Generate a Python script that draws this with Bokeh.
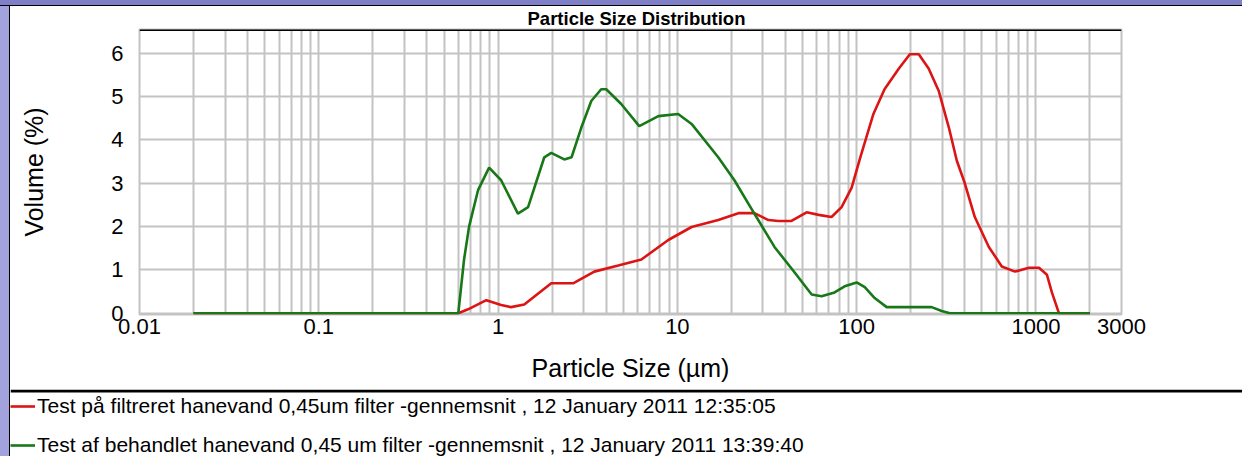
from bokeh.plotting import figure
from bokeh.models import FixedTicker, Span, Legend, LegendItem, Range1d
from bokeh.layouts import column
from bokeh.embed import file_html
from bokeh.resources import INLINE

# ---- data ----
x_ticks = [0.01, 0.1, 1, 10, 100, 1000, 3000]
x_tick_labels = ["0.01", "0.1", "1", "10", "100", "1000", "3000"]
y_ticks = [0, 1, 2, 3, 4, 5, 6]

red_label = "Test på filtreret hanevand 0,45um filter -gennemsnit , 12 January 2011 12:35:05"
green_label = "Test af behandlet hanevand 0,45 um filter -gennemsnit , 12 January 2011 13:39:40"

red_x = [0.02, 0.6, 0.68, 0.86, 1.04, 1.18, 1.4, 1.98, 2.62, 3.44, 4.68, 6.3, 8.9, 12.0,
         16.9, 21.9, 26.9, 32.2, 36.6, 43.3, 52.6, 61.4, 72.4, 82.4, 93.8, 104, 124, 143,
         172, 198, 222, 252, 287, 327, 362, 401, 456, 546, 645, 764, 914, 1040, 1151,
         1227, 1343, 2000]
red_y = [0, 0, 0.09, 0.30, 0.19, 0.14, 0.2, 0.69, 0.69, 0.96, 1.1, 1.24, 1.69, 1.99,
         2.15, 2.31, 2.31, 2.15, 2.13, 2.13, 2.33, 2.27, 2.22, 2.45, 2.9, 3.55, 4.6, 5.17,
         5.65, 5.98, 5.98, 5.65, 5.13, 4.28, 3.52, 3.0, 2.22, 1.53, 1.08, 0.96, 1.05, 1.05,
         0.89, 0.48, 0, 0]

green_x = [0.02, 0.6, 0.646, 0.689, 0.773, 0.891, 1.04, 1.29, 1.47, 1.81, 1.98, 2.34, 2.57,
           2.91, 3.31, 3.76, 4.01, 4.86, 6.13, 7.83, 10.1, 12.0, 16.9, 20.8, 27.6, 34.8,
           45.1, 56.1, 63.7, 75.3, 85.7, 100, 111, 126, 147, 262, 298, 331, 2000]
green_y = [0, 0, 1.24, 2.0, 2.84, 3.36, 3.07, 2.3, 2.45, 3.6, 3.7, 3.55, 3.6,
           4.28, 4.9, 5.17, 5.17, 4.83, 4.32, 4.55, 4.6, 4.37, 3.6, 3.07, 2.22, 1.53,
           0.94, 0.43, 0.39, 0.48, 0.62, 0.71, 0.6, 0.35, 0.14, 0.14, 0.05, 0, 0]

RED = "#dd1414"
GREEN = "#187818"
FONT = "Liberation Sans"
GRID = "#c3c3c3"

W = 1232
p = figure(width=W, height=383, x_axis_type="log",
           x_range=Range1d(0.01, 3000), y_range=Range1d(-0.03, 6.55),
           output_backend="svg", toolbar_location=None,
           min_border_left=129, min_border_right=121,
           min_border_top=22, min_border_bottom=75)
p.frame_align = False

p.background_fill_color = "white"
p.border_fill_color = "white"
p.outline_line_color = GRID
p.outline_line_width = 2

p.title.text = "Particle Size Distribution"
p.title.align = "left"
p.title.offset = 388
p.title.vertical_align = "middle"
p.title.text_font = FONT
p.title.text_font_size = "18.5px"
p.title.text_font_style = "bold"
p.title.text_color = "black"
p.title.standoff = 0

# grid
grid_x = [m * d for d in [0.01, 0.1, 1, 10, 100] for m in range(1, 10)] + [1000, 2000, 3000]
p.xgrid.ticker = FixedTicker(ticks=grid_x)
p.ygrid.ticker = FixedTicker(ticks=y_ticks)
for g in (p.xgrid, p.ygrid):
    g.grid_line_color = GRID
    g.grid_line_width = 2
    g.grid_line_alpha = 1

# axes
p.xaxis.ticker = FixedTicker(ticks=x_ticks, minor_ticks=[])
p.xaxis.major_label_overrides = {v: s for v, s in zip(x_ticks, x_tick_labels)}
p.yaxis.ticker = FixedTicker(ticks=y_ticks, minor_ticks=[])
for ax in (p.xaxis, p.yaxis):
    ax.axis_line_color = None
    ax.major_tick_line_color = None
    ax.minor_tick_line_color = None
    ax.major_tick_out = 0
    ax.major_tick_in = 0
    ax.minor_tick_out = 0
    ax.major_label_text_font = FONT
    ax.major_label_text_font_size = "22px"
    ax.major_label_text_color = "black"
    ax.axis_label_text_font = FONT
    ax.axis_label_text_font_size = "25px"
    ax.axis_label_text_font_style = "normal"
    ax.axis_label_text_color = "black"

p.xaxis.axis_label = "Particle Size (µm)"
p.yaxis.axis_label = "Volume (%)"
p.xaxis.major_label_standoff = 4
p.xaxis.axis_label_standoff = 17
p.yaxis.major_label_standoff = 16
p.yaxis.axis_label_standoff = 60

# top black edge of the plot area
p.add_layout(Span(location=6.55, dimension="width", line_color="black", line_width=3))

# curves
r1 = p.line(red_x, red_y, line_color=RED, line_width=2.6)
r2 = p.line(green_x, green_y, line_color=GREEN, line_width=2.6)

# ---- legend strip below the chart ----
q = figure(width=W, height=67, x_range=Range1d(0, 1), y_range=Range1d(0, 67),
           output_backend="svg", toolbar_location=None,
           x_axis_location=None, y_axis_location=None,
           min_border_left=0, min_border_right=0, min_border_top=0, min_border_bottom=0)
q.frame_align = False
q.background_fill_color = "white"
q.border_fill_color = "white"
q.outline_line_color = None
q.xgrid.visible = False
q.ygrid.visible = False
q.add_layout(Span(location=65.5, dimension="width", line_color="black", line_width=3))

# legend keys: same series, hidden in this strip, only their legend glyphs show
l1 = q.line(red_x, red_y, line_color=RED, line_width=2.6, visible=False)
l2 = q.line(green_x, green_y, line_color=GREEN, line_width=2.6, visible=False)
legend = Legend(items=[LegendItem(label=red_label, renderers=[l1]),
                       LegendItem(label=green_label, renderers=[l2])],
                location="top_left", orientation="vertical",
                padding=0, spacing=5, margin=0, label_standoff=2,
                glyph_width=25, glyph_height=34, label_height=34,
                border_line_color=None, background_fill_alpha=0,
                inactive_fill_alpha=0,
                label_text_font=FONT, label_text_font_size="21px",
                label_text_color="black")
q.add_layout(legend)

layout = column(p, q, spacing=0, margin=(6, 0, 0, 10))

html = file_html(layout, INLINE)
i = html.rfind("<body")
bg = ("background: linear-gradient(to bottom, #8080c8 0px, #8080c8 5px, #000 5px, #000 6px, "
      "transparent 6px), linear-gradient(to right, #a2a2dc 0px, #a2a2dc 9px, #000 9px, #000 10px, "
      "#ffffff 10px);")
html = html[:i] + '<body style="' + bg + '"' + html[i + 5:]
open("out.html", "w").write(html)
